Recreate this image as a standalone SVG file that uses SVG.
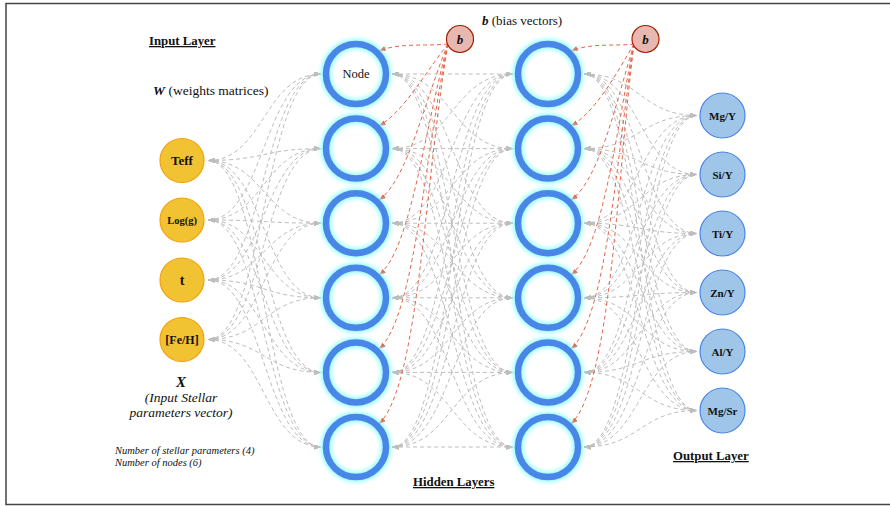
<svg xmlns="http://www.w3.org/2000/svg" width="890" height="506" viewBox="0 0 890 506">
<style>
text{font-family:"Liberation Serif","DejaVu Serif","Times New Roman",serif;fill:#111}
.lbl{font-weight:bold;text-anchor:middle}
.title{font-weight:bold;font-size:12.8px;text-decoration:underline}
.edge path{fill:none;stroke:#bdbdbd;stroke-width:1;stroke-dasharray:4 3;marker-start:url(#ag);marker-end:url(#ag)}
.bias path{fill:none;stroke:#e2674c;stroke-width:1;stroke-dasharray:4 3;marker-end:url(#ar)}
.inp{fill:#f1c232;stroke:#f5a00a;stroke-width:1.2}
.out{fill:#9fc5e8;stroke:#4a86e8;stroke-width:1.2}
.bn{fill:#e6b8af;stroke:#a61c00;stroke-width:1.2}
.glow{fill:none;stroke:#8ffcff;stroke-width:10;filter:url(#blur)}
.ring{fill:none;stroke:#4a86e8;stroke-width:6.5}
.bg{fill:#fff}
</style>
<defs>
<marker id="ag" viewBox="0 0 8 6" refX="8" refY="3" markerWidth="7" markerHeight="5" orient="auto-start-reverse" markerUnits="userSpaceOnUse"><path d="M0 0L8 3L0 6z" fill="#bdbdbd"/></marker>
<marker id="ar" viewBox="0 0 8 6" refX="8" refY="3" markerWidth="7" markerHeight="5" orient="auto" markerUnits="userSpaceOnUse"><path d="M0 0L8 3L0 6z" fill="#e2674c"/></marker>
<filter id="blur" x="-30%" y="-30%" width="160%" height="160%"><feGaussianBlur stdDeviation="2"/></filter>
</defs>
<rect x="6" y="3.5" width="900" height="501" fill="#fff" stroke="#444" stroke-width="1.5"/>

<g id="connectors">
<g class="edge">
<path d="M208 160.5C264 160.5 264 74 321 74"/>
<path d="M208 160.5C264 160.5 264 148.6 321 148.6"/>
<path d="M208 160.5C264 160.5 264 223.2 321 223.2"/>
<path d="M208 160.5C264 160.5 264 297.8 321 297.8"/>
<path d="M208 160.5C264 160.5 264 372.4 321 372.4"/>
<path d="M208 160.5C264 160.5 264 447 321 447"/>
<path d="M208 220C264 220 264 74 321 74"/>
<path d="M208 220C264 220 264 148.6 321 148.6"/>
<path d="M208 220C264 220 264 223.2 321 223.2"/>
<path d="M208 220C264 220 264 297.8 321 297.8"/>
<path d="M208 220C264 220 264 372.4 321 372.4"/>
<path d="M208 220C264 220 264 447 321 447"/>
<path d="M208 280C264 280 264 74 321 74"/>
<path d="M208 280C264 280 264 148.6 321 148.6"/>
<path d="M208 280C264 280 264 223.2 321 223.2"/>
<path d="M208 280C264 280 264 297.8 321 297.8"/>
<path d="M208 280C264 280 264 372.4 321 372.4"/>
<path d="M208 280C264 280 264 447 321 447"/>
<path d="M208 339.5C264 339.5 264 74 321 74"/>
<path d="M208 339.5C264 339.5 264 148.6 321 148.6"/>
<path d="M208 339.5C264 339.5 264 223.2 321 223.2"/>
<path d="M208 339.5C264 339.5 264 297.8 321 297.8"/>
<path d="M208 339.5C264 339.5 264 372.4 321 372.4"/>
<path d="M208 339.5C264 339.5 264 447 321 447"/>

<path d="M392 74C452 74 452 74 513 74"/>
<path d="M392 74C452 74 452 148.6 513 148.6"/>
<path d="M392 74C452 74 452 223.2 513 223.2"/>
<path d="M392 74C452 74 452 297.8 513 297.8"/>
<path d="M392 74C452 74 452 372.4 513 372.4"/>
<path d="M392 74C452 74 452 447 513 447"/>
<path d="M392 148.6C452 148.6 452 74 513 74"/>
<path d="M392 148.6C452 148.6 452 148.6 513 148.6"/>
<path d="M392 148.6C452 148.6 452 223.2 513 223.2"/>
<path d="M392 148.6C452 148.6 452 297.8 513 297.8"/>
<path d="M392 148.6C452 148.6 452 372.4 513 372.4"/>
<path d="M392 148.6C452 148.6 452 447 513 447"/>
<path d="M392 223.2C452 223.2 452 74 513 74"/>
<path d="M392 223.2C452 223.2 452 148.6 513 148.6"/>
<path d="M392 223.2C452 223.2 452 223.2 513 223.2"/>
<path d="M392 223.2C452 223.2 452 297.8 513 297.8"/>
<path d="M392 223.2C452 223.2 452 372.4 513 372.4"/>
<path d="M392 223.2C452 223.2 452 447 513 447"/>
<path d="M392 297.8C452 297.8 452 74 513 74"/>
<path d="M392 297.8C452 297.8 452 148.6 513 148.6"/>
<path d="M392 297.8C452 297.8 452 223.2 513 223.2"/>
<path d="M392 297.8C452 297.8 452 297.8 513 297.8"/>
<path d="M392 297.8C452 297.8 452 372.4 513 372.4"/>
<path d="M392 297.8C452 297.8 452 447 513 447"/>
<path d="M392 372.4C452 372.4 452 74 513 74"/>
<path d="M392 372.4C452 372.4 452 148.6 513 148.6"/>
<path d="M392 372.4C452 372.4 452 223.2 513 223.2"/>
<path d="M392 372.4C452 372.4 452 297.8 513 297.8"/>
<path d="M392 372.4C452 372.4 452 372.4 513 372.4"/>
<path d="M392 372.4C452 372.4 452 447 513 447"/>
<path d="M392 447C452 447 452 74 513 74"/>
<path d="M392 447C452 447 452 148.6 513 148.6"/>
<path d="M392 447C452 447 452 223.2 513 223.2"/>
<path d="M392 447C452 447 452 297.8 513 297.8"/>
<path d="M392 447C452 447 452 372.4 513 372.4"/>
<path d="M392 447C452 447 452 447 513 447"/>

<path d="M584 74C640 74 640 115.5 697 115.5"/>
<path d="M584 74C640 74 640 174.5 697 174.5"/>
<path d="M584 74C640 74 640 233.5 697 233.5"/>
<path d="M584 74C640 74 640 292.5 697 292.5"/>
<path d="M584 74C640 74 640 351.5 697 351.5"/>
<path d="M584 74C640 74 640 410.5 697 410.5"/>
<path d="M584 148.6C640 148.6 640 115.5 697 115.5"/>
<path d="M584 148.6C640 148.6 640 174.5 697 174.5"/>
<path d="M584 148.6C640 148.6 640 233.5 697 233.5"/>
<path d="M584 148.6C640 148.6 640 292.5 697 292.5"/>
<path d="M584 148.6C640 148.6 640 351.5 697 351.5"/>
<path d="M584 148.6C640 148.6 640 410.5 697 410.5"/>
<path d="M584 223.2C640 223.2 640 115.5 697 115.5"/>
<path d="M584 223.2C640 223.2 640 174.5 697 174.5"/>
<path d="M584 223.2C640 223.2 640 233.5 697 233.5"/>
<path d="M584 223.2C640 223.2 640 292.5 697 292.5"/>
<path d="M584 223.2C640 223.2 640 351.5 697 351.5"/>
<path d="M584 223.2C640 223.2 640 410.5 697 410.5"/>
<path d="M584 297.8C640 297.8 640 115.5 697 115.5"/>
<path d="M584 297.8C640 297.8 640 174.5 697 174.5"/>
<path d="M584 297.8C640 297.8 640 233.5 697 233.5"/>
<path d="M584 297.8C640 297.8 640 292.5 697 292.5"/>
<path d="M584 297.8C640 297.8 640 351.5 697 351.5"/>
<path d="M584 297.8C640 297.8 640 410.5 697 410.5"/>
<path d="M584 372.4C640 372.4 640 115.5 697 115.5"/>
<path d="M584 372.4C640 372.4 640 174.5 697 174.5"/>
<path d="M584 372.4C640 372.4 640 233.5 697 233.5"/>
<path d="M584 372.4C640 372.4 640 292.5 697 292.5"/>
<path d="M584 372.4C640 372.4 640 351.5 697 351.5"/>
<path d="M584 372.4C640 372.4 640 410.5 697 410.5"/>
<path d="M584 447C640 447 640 115.5 697 115.5"/>
<path d="M584 447C640 447 640 174.5 697 174.5"/>
<path d="M584 447C640 447 640 233.5 697 233.5"/>
<path d="M584 447C640 447 640 292.5 697 292.5"/>
<path d="M584 447C640 447 640 351.5 697 351.5"/>
<path d="M584 447C640 447 640 410.5 697 410.5"/>
</g>
<g class="bias">
<path d="M448 44C425 46.5 400 42.4 379 51"/>
<path d="M448 44C425 72.7 404 111.4 379 126"/>
<path d="M448 44C425 98.6 408 179.5 379 200"/>
<path d="M448 44C425 124.9 411.6 248.5 379 275"/>
<path d="M448 44C425 150.8 415.3 316.6 379 349"/>
<path d="M448 44C425 177 419 385.6 379 424"/>
<path d="M634 44C617 46.5 592 42.4 571 51"/>
<path d="M634 44C617 72.7 596 111.4 571 126"/>
<path d="M634 44C617 98.6 600 179.5 571 200"/>
<path d="M634 44C617 124.9 603.6 248.5 571 275"/>
<path d="M634 44C617 150.8 607.3 316.6 571 349"/>
<path d="M634 44C617 177 611 385.6 571 424"/>
</g>
</g>

<g id="in-teff"><circle class="inp" cx="182" cy="160.5" r="22"/><text class="lbl" x="182" y="165" font-size="13">Teff</text></g>
<g id="in-logg"><circle class="inp" cx="182" cy="220" r="22"/><text class="lbl" x="182" y="223.8" font-size="10.5">Log(g)</text></g>
<g id="in-t"><circle class="inp" cx="182" cy="280" r="22"/><text class="lbl" x="182" y="285" font-size="14">t</text></g>
<g id="in-feh"><circle class="inp" cx="182" cy="339.5" r="22"/><text class="lbl" x="182" y="343.8" font-size="12">[Fe/H]</text></g>

<g id="h1-1"><circle class="bg" cx="356" cy="74" r="33"/><circle class="glow" cx="356" cy="74" r="30"/><circle class="ring" cx="356" cy="74" r="30"/><text x="356" y="78" text-anchor="middle" font-size="12.5">Node</text></g>
<g id="h1-2"><circle class="bg" cx="356" cy="148.6" r="33"/><circle class="glow" cx="356" cy="148.6" r="30"/><circle class="ring" cx="356" cy="148.6" r="30"/></g>
<g id="h1-3"><circle class="bg" cx="356" cy="223.2" r="33"/><circle class="glow" cx="356" cy="223.2" r="30"/><circle class="ring" cx="356" cy="223.2" r="30"/></g>
<g id="h1-4"><circle class="bg" cx="356" cy="297.8" r="33"/><circle class="glow" cx="356" cy="297.8" r="30"/><circle class="ring" cx="356" cy="297.8" r="30"/></g>
<g id="h1-5"><circle class="bg" cx="356" cy="372.4" r="33"/><circle class="glow" cx="356" cy="372.4" r="30"/><circle class="ring" cx="356" cy="372.4" r="30"/></g>
<g id="h1-6"><circle class="bg" cx="356" cy="447" r="33"/><circle class="glow" cx="356" cy="447" r="30"/><circle class="ring" cx="356" cy="447" r="30"/></g>

<g id="h2-1"><circle class="bg" cx="548" cy="74" r="33"/><circle class="glow" cx="548" cy="74" r="30"/><circle class="ring" cx="548" cy="74" r="30"/></g>
<g id="h2-2"><circle class="bg" cx="548" cy="148.6" r="33"/><circle class="glow" cx="548" cy="148.6" r="30"/><circle class="ring" cx="548" cy="148.6" r="30"/></g>
<g id="h2-3"><circle class="bg" cx="548" cy="223.2" r="33"/><circle class="glow" cx="548" cy="223.2" r="30"/><circle class="ring" cx="548" cy="223.2" r="30"/></g>
<g id="h2-4"><circle class="bg" cx="548" cy="297.8" r="33"/><circle class="glow" cx="548" cy="297.8" r="30"/><circle class="ring" cx="548" cy="297.8" r="30"/></g>
<g id="h2-5"><circle class="bg" cx="548" cy="372.4" r="33"/><circle class="glow" cx="548" cy="372.4" r="30"/><circle class="ring" cx="548" cy="372.4" r="30"/></g>
<g id="h2-6"><circle class="bg" cx="548" cy="447" r="33"/><circle class="glow" cx="548" cy="447" r="30"/><circle class="ring" cx="548" cy="447" r="30"/></g>

<g id="out-mgy"><circle class="out" cx="722.5" cy="115.5" r="22.5"/><text class="lbl" x="722.5" y="119.5" font-size="11">Mg/Y</text></g>
<g id="out-siy"><circle class="out" cx="722.5" cy="174.5" r="22.5"/><text class="lbl" x="722.5" y="178.5" font-size="11">Si/Y</text></g>
<g id="out-tiy"><circle class="out" cx="722.5" cy="233.5" r="22.5"/><text class="lbl" x="722.5" y="237.5" font-size="11">Ti/Y</text></g>
<g id="out-zny"><circle class="out" cx="722.5" cy="292.5" r="22.5"/><text class="lbl" x="722.5" y="296.5" font-size="11">Zn/Y</text></g>
<g id="out-aly"><circle class="out" cx="722.5" cy="351.5" r="22.5"/><text class="lbl" x="722.5" y="355.5" font-size="11">Al/Y</text></g>
<g id="out-mgsr"><circle class="out" cx="722.5" cy="410.5" r="22.5"/><text class="lbl" x="722.5" y="414.5" font-size="11">Mg/Sr</text></g>

<g id="bias-1"><circle class="bn" cx="460" cy="39" r="13.5"/><text class="lbl" x="460" y="43.5" font-size="13" font-style="italic">b</text></g>
<g id="bias-2"><circle class="bn" cx="645.5" cy="39" r="13.5"/><text class="lbl" x="645.5" y="43.5" font-size="13" font-style="italic">b</text></g>

<g id="labels">
<text class="title" x="149" y="45" font-size="13">Input Layer</text>
<text x="153" y="95" font-size="13.5"><tspan font-weight="bold" font-style="italic">W</tspan> (weights matrices)</text>
<text x="482" y="25" font-size="13"><tspan font-weight="bold" font-style="italic">b</tspan> (bias vectors)</text>
<text x="181" y="387" text-anchor="middle" font-size="15" font-weight="bold" font-style="italic">X</text>
<text x="181" y="402" text-anchor="middle" font-size="13.5" font-style="italic">(Input Stellar</text>
<text x="181" y="417" text-anchor="middle" font-size="13.5" font-style="italic">parameters vector)</text>
<text x="115" y="454" font-size="10.5" font-style="italic">Number of stellar parameters (4)</text>
<text x="115" y="466" font-size="10.5" font-style="italic">Number of nodes (6)</text>
<text class="title" x="413" y="486">Hidden Layers</text>
<text class="title" x="673" y="460">Output Layer</text>
</g>
</svg>
